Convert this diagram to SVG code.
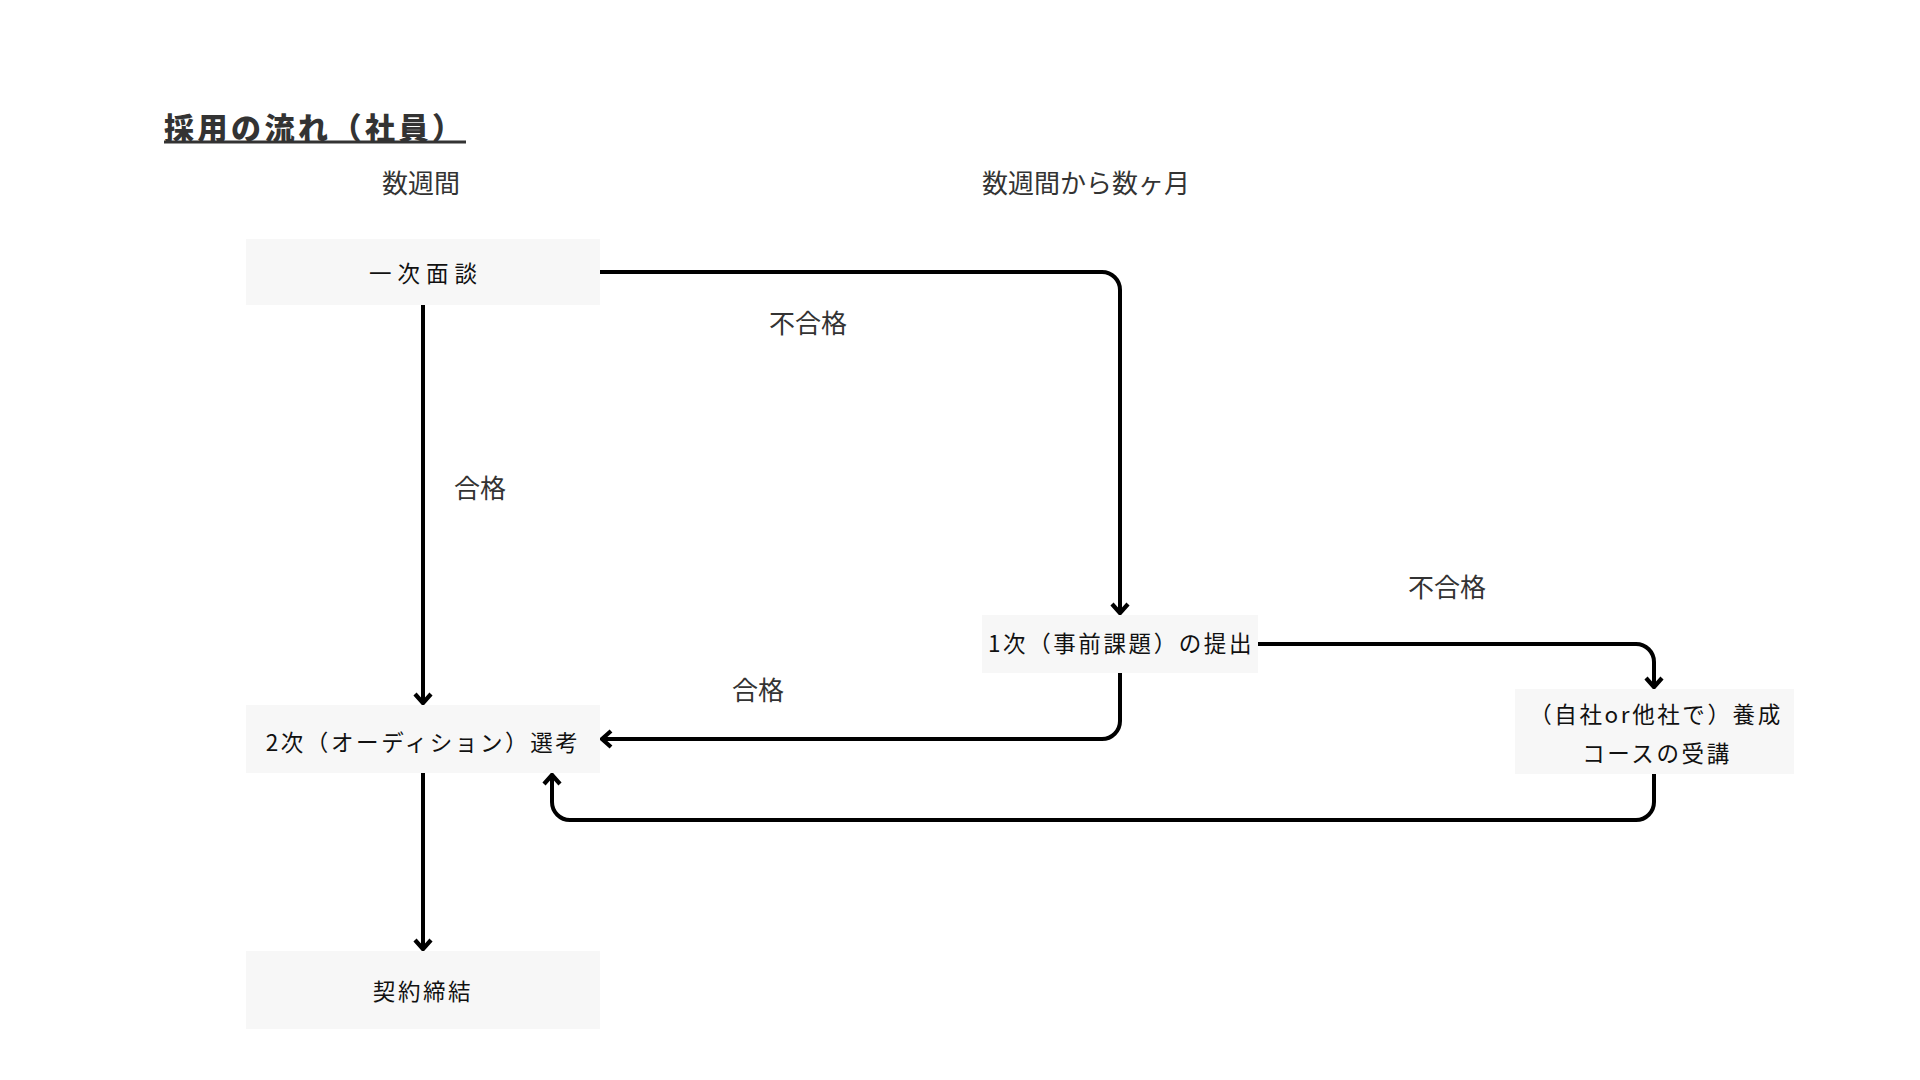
<svg xmlns="http://www.w3.org/2000/svg" width="1920" height="1080" viewBox="0 0 1920 1080">
<style>
.bg{fill:#ffffff}
.node rect{fill:#f7f7f7}
.nt{font-family:"Noto Sans CJK JP","Noto Sans",sans-serif;font-size:22.5px;font-weight:400;fill:#111;text-anchor:middle;dominant-baseline:central;letter-spacing:2.6px}
.lb{font-family:"Noto Sans CJK JP","Noto Sans",sans-serif;font-size:26px;fill:#333;text-anchor:middle;dominant-baseline:central}
.title{font-family:"Noto Sans CJK JP","Noto Sans",sans-serif;font-size:30px;font-weight:900;fill:#333;dominant-baseline:central;letter-spacing:3.5px}
.conn path{fill:none;stroke:#000;stroke-width:4;marker-end:url(#arr)}
</style>
<defs>
<marker id="arr" markerUnits="userSpaceOnUse" viewBox="-12 -12 24 24" markerWidth="24" markerHeight="24" refX="0" refY="0" orient="auto">
<path d="M-9,-8 L0,0 L-9,8" fill="none" stroke="#000" stroke-width="4.2" stroke-linejoin="miter"/>
</marker>
</defs>
<rect class="bg" x="0" y="0" width="1920" height="1080"/>
<g id="title">
<text class="title" x="164" y="126">採用の流れ（社員）</text>
<line x1="164" y1="142" x2="466" y2="142" stroke="#333" stroke-width="3"/>
</g>
<g id="headings">
<text class="lb" x="421" y="181">数週間</text>
<text class="lb" x="1086" y="181">数週間から数ヶ月</text>
</g>
<g class="conn" id="connectors">
<path d="M423,305 V703"/>
<path d="M600,272 H1102 A18,18 0 0 1 1120,290 V613"/>
<path d="M1258,644 H1636 A18,18 0 0 1 1654,662 V687"/>
<path d="M1120,673 V721 A18,18 0 0 1 1102,739 H602"/>
<path d="M1654,774 V802 A18,18 0 0 1 1636,820 H570 A18,18 0 0 1 552,802 V775"/>
<path d="M423,773 V949"/>
</g>
<g id="labels">
<text class="lb" x="480" y="486">合格</text>
<text class="lb" x="808" y="321">不合格</text>
<text class="lb" x="1447" y="585">不合格</text>
<text class="lb" x="758" y="688">合格</text>
</g>
<g id="n1" class="node">
<rect x="246" y="239" width="354" height="66"/>
<text class="nt" x="426" y="272" style="letter-spacing:6px">一次面談</text>
</g>
<g id="n2" class="node">
<rect x="246" y="705" width="354" height="68"/>
<text class="nt" x="423" y="741">2次（オーディション）選考</text>
</g>
<g id="n3" class="node">
<rect x="246" y="951" width="354" height="78"/>
<text class="nt" x="423" y="990">契約締結</text>
</g>
<g id="n4" class="node">
<rect x="982" y="615" width="276" height="58"/>
<text class="nt" x="1121" y="642">1次（事前課題）の提出</text>
</g>
<g id="n5" class="node">
<rect x="1515" y="689" width="279" height="85"/>
<text class="nt" x="1656" y="713">（自社or他社で）養成</text>
<text class="nt" x="1657" y="752">コースの受講</text>
</g>
</svg>
